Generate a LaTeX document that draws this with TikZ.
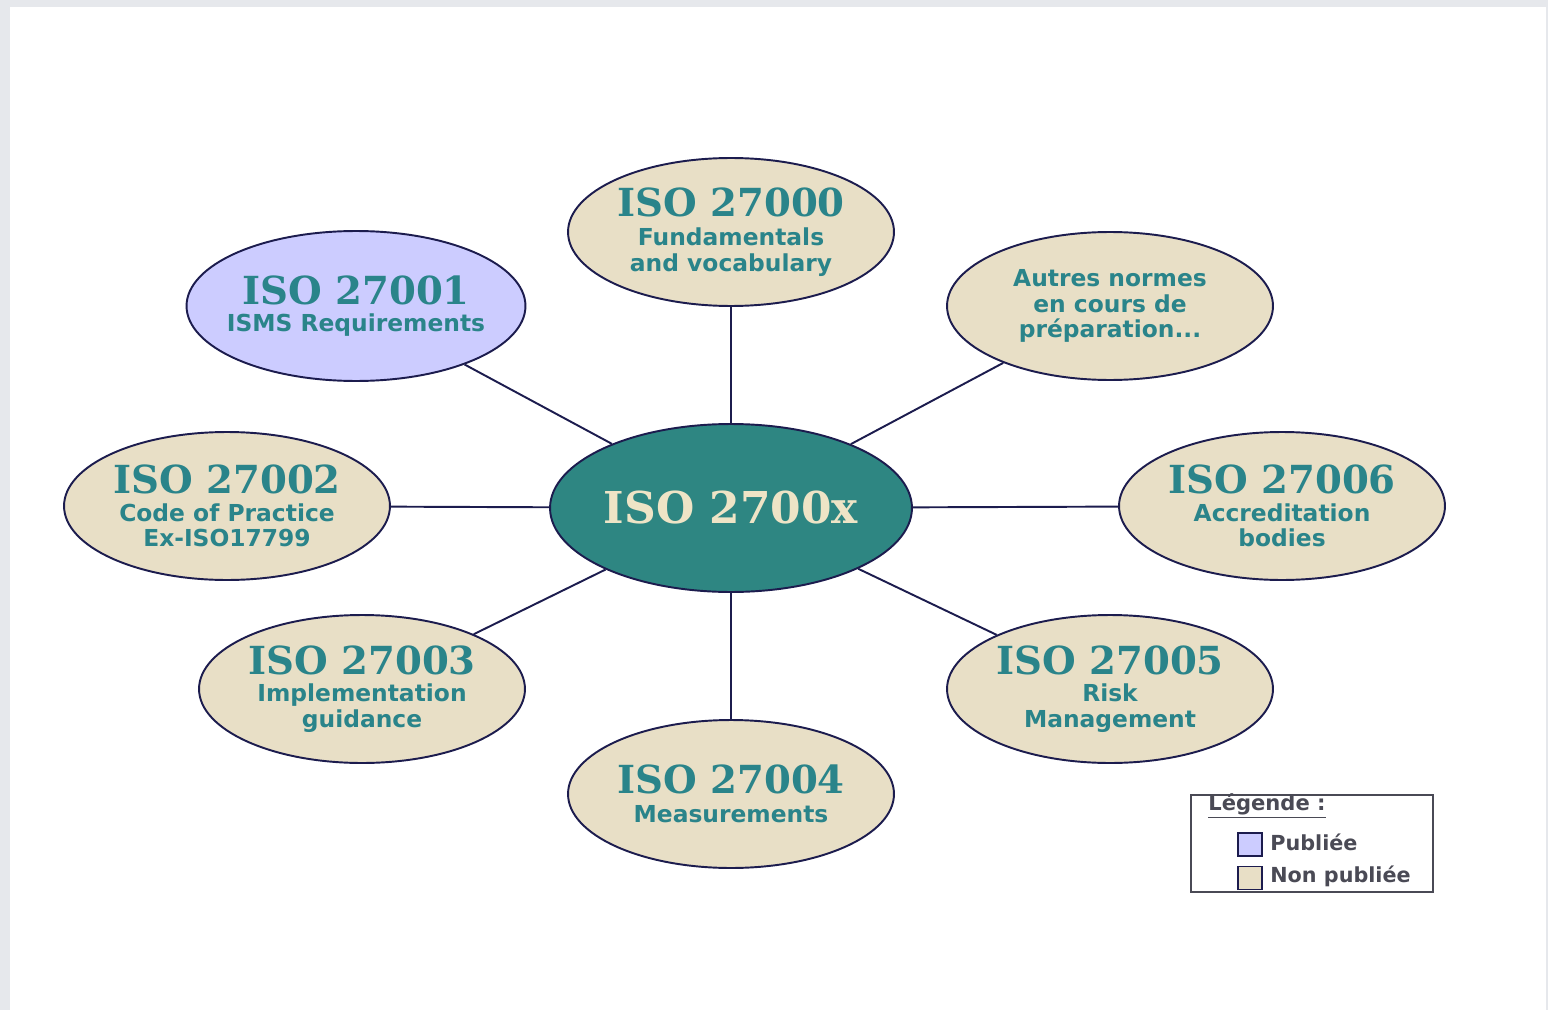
\documentclass[tikz,border=0pt]{standalone}
\usepackage{fontspec}
\setmainfont{DejaVu Sans}
\newfontfamily\titlefam{DejaVu Serif}
\usetikzlibrary{shapes.geometric}
\definecolor{beige}{HTML}{E8DFC6}
\definecolor{lav}{HTML}{CCCCFF}
\definecolor{tealfill}{HTML}{2E8682}
\definecolor{tealtxt}{HTML}{2A848A}
\definecolor{navy}{HTML}{1C1C4E}
\definecolor{cream}{HTML}{EEE4C6}
\definecolor{framegray}{HTML}{E6E8EC}
\definecolor{legtxt}{HTML}{4A4A55}
\newcommand\isotitle[1]{{\titlefam\bfseries\fontsize{22}{24}\selectfont #1}}
\begin{document}
\begin{tikzpicture}[x=0.02cm,y=-0.02cm,
  iso/.style={ellipse, draw=navy, line width=1.1pt, fill=beige,
    minimum width=6.52cm, minimum height=2.96cm, inner sep=0pt,
    align=center, text=tealtxt, font=\bfseries\fontsize{13.3}{14.5}\selectfont},
  conn/.style={draw=navy, line width=1.1pt},
  legbox/.style={draw=navy, line width=1pt, minimum width=0.48cm, minimum height=0.46cm, inner sep=0pt},
  legtext/.style={anchor=west, text=legtxt, font=\bfseries\fontsize{11.8}{13}\selectfont, inner sep=0pt}]
\fill[framegray] (0,0) rectangle (1548,1010);
\fill[white] (10,7) rectangle (1546,1010);
\useasboundingbox (0,0) rectangle (1548,1010);

\node[iso, minimum height=3.36cm, minimum width=7.24cm, fill=tealfill, text=cream,
  font=\titlefam\bfseries\fontsize{25}{28}\selectfont] (c) at (731,508) {ISO 2700x};

\node[iso] (n0) at (731,232) {\isotitle{ISO 27000}\\[2pt]Fundamentals\\and vocabulary};
\node[iso, fill=lav, minimum width=6.78cm, minimum height=3.0cm, inner xsep=-20pt] (n1) at (356,306) {\isotitle{ISO 27001}\\[1pt]ISMS Requirements};
\node[iso] (na) at (1110,306) {Autres normes\\en cours de\\préparation...};
\node[iso] (n2) at (227,506) {\isotitle{ISO 27002}\\[1pt]Code of Practice\\Ex-ISO17799};
\node[iso] (n6) at (1282,506) {\isotitle{ISO 27006}\\[1pt]Accreditation\\bodies};
\node[iso] (n3) at (362,689) {\isotitle{ISO 27003}\\[1pt]Implementation\\guidance};
\node[iso] (n5) at (1110,689) {\isotitle{ISO 27005}\\[1pt]Risk\\Management};
\node[iso] (n4) at (731,794) {\isotitle{ISO 27004}\\[2pt]Measurements};

\foreach \n in {n0,n1,na,n2,n6,n3,n5,n4}
  \draw[conn] (c) -- (\n);

\node[draw=legtxt, line width=0.8pt, minimum width=4.84cm, minimum height=1.94cm, inner sep=0pt] (leg) at (1312,843.5) {};
\node[anchor=west, text=legtxt, font=\bfseries\fontsize{12}{13}\selectfont, inner sep=0pt] (legt) at (1208,806) {\underline{Légende :}};
\node[legbox, fill=lav] (s1) at (1250,844.5) {};
\node[legbox, fill=beige] (s2) at (1250,878) {};
\node[legtext] (t1) at (1270,842) {Publiée};
\node[legtext] (t2) at (1270,876) {Non publiée};
\end{tikzpicture}
\end{document}
